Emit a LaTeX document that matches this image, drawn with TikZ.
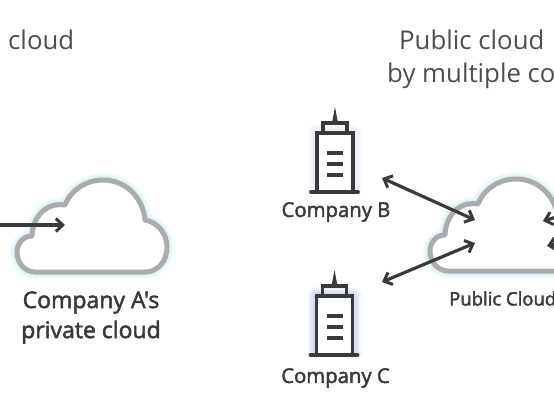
\documentclass[tikz,border=0pt]{standalone}
\usepackage{xcolor}
\usepackage{fontspec}
\setmainfont{Open Sans}
\newfontfamily\labelfont[FakeBold=2.2]{Open Sans}
\usetikzlibrary{arrows.meta}
\definecolor{inkdark}{RGB}{56,58,60}
\definecolor{cloudgray}{RGB}{172,172,172}
\definecolor{glowcyan}{RGB}{170,225,235}
\definecolor{glowpink}{RGB}{225,195,235}
\definecolor{glowblue}{RGB}{130,145,225}

\begin{document}
\begin{tikzpicture}[
    x=1pt, y=-1pt,
    title/.style={font=\fontsize{25.8}{30}\selectfont, text=inkdark!90, anchor=base west, inner sep=0pt},
    label/.style={font=\labelfont\fontsize{20.3}{25}\selectfont, text=inkdark, align=center, inner sep=0pt},
    arr/.style={{Straight Barb[length=7pt,width=13pt,line width=3pt]}-{Straight Barb[length=7pt,width=13pt,line width=3pt]}, line width=3.2pt, inkdark},
    arrone/.style={-{Straight Barb[length=7pt,width=13pt,line width=3pt]}, line width=3.2pt, inkdark},
    cloud/.pic={
      \def\cloudpath{(35,272) -- (145,272) .. controls (158,272) and (167,261) .. (167,247)
        .. controls (167,233) and (157,222) .. (145,220)
        .. controls (143,197) and (125,180) .. (103,180)
        .. controls (86,180) and (71,190) .. (65,205)
        .. controls (50,202) and (33,213) .. (32,236)
        .. controls (22,236) and (17,245) .. (17,252)
        .. controls (17,264) and (26,272) .. (35,272) -- cycle}
      \foreach \w in {14,12.5,11,9.5,8,6.5}
        \draw[glowcyan, line width=\w pt, opacity=0.09, line join=round] \cloudpath;
      \fill[white] \cloudpath;
      \draw[cloudgray, line width=5pt, line join=round] \cloudpath;
    },
    tower/.pic={
      % glow behind the body
      \foreach \w in {18,15.5,13,10.5,8,5.5}
        \draw[#1, line width=\w pt, opacity=0.07, line join=round] (317,190) -- (317,133) -- (353,133) -- (353,190) -- cycle;
      \fill[white] (317,133) rectangle (353,192);
      \fill[white] (290,194) rectangle (380,204);
      \fill[inkdark] (332,123) -- (335,107) -- (338,123) -- cycle;
      \draw[inkdark, line width=3.8pt] (317,192) -- (317,133) -- (353,133) -- (353,192);
      \draw[inkdark, line width=3.8pt] (323,133) -- (323,123) -- (347,123) -- (347,133);
      \draw[inkdark, line width=3.8pt, line cap=round] (311,192) -- (358,192);
      \foreach \y in {153,164,175}
        \draw[inkdark, line width=3.4pt] (327,\y) -- (343,\y);
    }
  ]
    \useasboundingbox (0,0) rectangle (554,416);
    \clip (0,0) rectangle (554,416);
    % Clouds
    \pic at (0,0) {cloud};
    \pic at (413,-1) {cloud};
    % Towers
    \pic at (0,0) {tower=glowpink};
    \pic at (-0.5,163) {tower=glowblue};
    % Titles
    \node[title] (titleA) at (8,49.5) {cloud};
    \node[title] (titleP) at (399,49.5) {Public cloud};
    \node[title] (titleM) at (387,82.5) {by multiple co};
    % Labels
    \node[label, font=\labelfont\fontsize{23}{30}\selectfont] (labelA) at (91,317.5) {Company A's\\private cloud};
    \node[label] (labelB) at (336,212) {Company B};
    \node[label] (labelC) at (335.5,378) {Company C};
    \node[label, font=\labelfont\fontsize{18.5}{22}\selectfont, anchor=west] (labelP) at (449,298.5) {Public Cloud};
    % Arrow ends
    \coordinate (inA) at (-2,225);
    \coordinate (tipA) at (65,225);
    \coordinate (outB) at (382,178);
    \coordinate (tipB) at (475,220);
    \coordinate (outC) at (382,282);
    \coordinate (tipC) at (475,243);
    \coordinate (tipD) at (543,221);
    \coordinate (inD) at (560,216);
    \coordinate (tipE) at (547,246);
    \coordinate (inE) at (560,243);
    % Arrows
    \draw[arrone] (inA) -- (tipA);
    \draw[arr] (outB) -- (tipB);
    \draw[arr] (outC) -- (tipC);
    \draw[arrone] (inD) -- (tipD);
    \draw[arrone] (inE) -- (tipE);
  \end{tikzpicture}
\end{document}
